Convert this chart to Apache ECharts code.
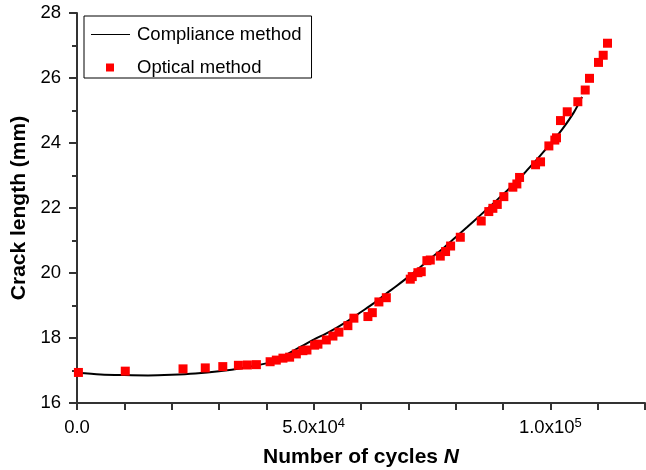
<!DOCTYPE html>
<html>
<head>
<meta charset="utf-8">
<script src="https://cdn.jsdelivr.net/npm/echarts@6/dist/echarts.min.js"></script>
<style>html,body{margin:0;padding:0;background:#fff}#c{width:646px;height:470px}</style>
</head>
<body>
<div id="c"></div>
<script>
// Compliance method curve (cycles, crack length mm)
var complianceX = [0, 5000, 10000, 15000, 20000, 25000, 30000, 35000, 40000, 42500, 45000, 47500, 50000, 52500, 55000, 57500, 60000, 62500, 65000, 67500, 70000, 72500, 75000, 77500, 80000, 82500, 85000, 87500, 90000, 92500, 95000, 97500, 100000, 102500, 105000, 106700];
var complianceY = [16.93, 16.88, 16.86, 16.85, 16.87, 16.91, 16.98, 17.08, 17.22, 17.34, 17.55, 17.75, 17.95, 18.13, 18.33, 18.55, 18.80, 19.05, 19.33, 19.60, 19.88, 20.18, 20.48, 20.78, 21.10, 21.42, 21.75, 22.08, 22.42, 22.76, 23.15, 23.55, 23.97, 24.42, 24.95, 25.42];
// Optical method measurements
var opticalX = [300, 10200, 22400, 27100, 30800, 34100, 36000, 37900, 40800, 42110, 43510, 44920, 46340, 47730, 48580, 50200, 50900, 52670, 54070, 55330, 57230, 58500, 61460, 62390, 63780, 65350, 70410, 70830, 72020, 72730, 73920, 74640, 76750, 77870, 78930, 80980, 85400, 87000, 87860, 88790, 90180, 92080, 92930, 93500, 96880, 97930, 99690, 100950, 101300, 102150, 103570, 105810, 107370, 108280, 110180, 111170, 112080];
var opticalY = [16.94, 16.98, 17.05, 17.08, 17.12, 17.16, 17.17, 17.18, 17.27, 17.32, 17.38, 17.41, 17.51, 17.61, 17.63, 17.78, 17.81, 17.94, 18.06, 18.18, 18.38, 18.61, 18.66, 18.78, 19.11, 19.24, 19.81, 19.89, 20.01, 20.04, 20.38, 20.40, 20.52, 20.66, 20.83, 21.10, 21.60, 21.89, 21.99, 22.11, 22.35, 22.64, 22.74, 22.94, 23.33, 23.42, 23.91, 24.09, 24.16, 24.69, 24.96, 25.27, 25.63, 25.99, 26.48, 26.70, 27.07];
// Tick labels on the x axis (value -> [mantissa, exponent])
var xTickLabels = {0: ['0.0', ''], 50000: ['5.0x10', '4'], 100000: ['1.0x10', '5']};
var seriesNames = ['Compliance method', 'Optical method'];

var FONT = '"Liberation Sans", Arial, sans-serif';
var chart = echarts.init(document.getElementById('c'), null, {renderer: 'canvas'});
chart.setOption({
  animation: false,
  backgroundColor: '#fff',
  tooltip: {show: false},
  textStyle: {fontFamily: FONT},
  grid: {left: 77, right: 1, top: 13, bottom: 67, containLabel: false, outerBoundsMode: 'none'},
  legend: [{
    data: [{name: seriesNames[0], icon: 'rect'}], left: 84, top: 16,
    padding: [9, 10, 34, 7], borderWidth: 1, borderColor: '#000',
    itemWidth: 39, itemHeight: 1, selectedMode: false,
    itemStyle: {color: '#000'},
    textStyle: {fontSize: 18.5, color: '#000', fontFamily: FONT, padding: [0, 0, 0, 2], width: 166, height: 18}
  }, {
    data: [{name: seriesNames[1], icon: 'rect'}], left: 106, top: 58, padding: 0,
    itemWidth: 8, itemHeight: 8, selectedMode: false,
    textStyle: {fontSize: 18.5, color: '#000', fontFamily: FONT, padding: [0, 0, 0, 18]}
  }],
  xAxis: {
    type: 'value', min: 0, max: 120000, interval: 10000,
    name: 'Number of cycles {i|N}', nameLocation: 'middle', nameGap: 44,
    nameTextStyle: {fontSize: 21, fontWeight: 'bold', color: '#000', fontFamily: FONT,
      rich: {i: {fontSize: 21, fontWeight: 'bold', fontStyle: 'italic', color: '#000', fontFamily: FONT}}},
    axisLine: {lineStyle: {color: '#333', width: 2}},
    axisTick: {length: 7, lineStyle: {color: '#333', width: 2}},
    splitLine: {show: false},
    axisLabel: {
      margin: 14, color: '#000', fontSize: 18.5, fontFamily: FONT,
      formatter: function (v) {
        var t = xTickLabels[v];
        if (!t) return '';
        return t[1] ? '{m|' + t[0] + '}{s|' + t[1] + '}' : '{m|' + t[0] + '}';
      },
      rich: {
        m: {fontSize: 18.5, color: '#000', fontFamily: FONT, lineHeight: 22},
        s: {fontSize: 13, color: '#000', fontFamily: FONT, verticalAlign: 'top', lineHeight: 12}
      }
    }
  },
  yAxis: {
    type: 'value', min: 16, max: 28, interval: 2,
    name: 'Crack length (mm)', nameLocation: 'middle', nameGap: 37,
    nameTextStyle: {fontSize: 21, fontWeight: 'bold', color: '#000', fontFamily: FONT},
    axisLine: {show: true, lineStyle: {color: '#333', width: 2}},
    axisTick: {show: true, length: 8, lineStyle: {color: '#333', width: 2}},
    minorTick: {show: true, splitNumber: 2, length: 5, lineStyle: {color: '#333', width: 2}},
    splitLine: {show: false},
    axisLabel: {margin: 16, color: '#000', fontSize: 18.5, fontFamily: FONT}
  },
  series: [{
    name: seriesNames[0], type: 'line', smooth: 0.3, showSymbol: false,
    lineStyle: {color: '#000', width: 2}, itemStyle: {color: '#000'},
    data: complianceX.map(function (x, i) { return [x, complianceY[i]]; }),
    z: 3
  }, {
    name: seriesNames[1], type: 'scatter', symbol: 'rect', symbolSize: 9, clip: false,
    itemStyle: {color: '#ff0000', opacity: 1},
    data: opticalX.map(function (x, i) { return [x, opticalY[i]]; }),
    z: 4
  }]
});
</script>
</body>
</html>
